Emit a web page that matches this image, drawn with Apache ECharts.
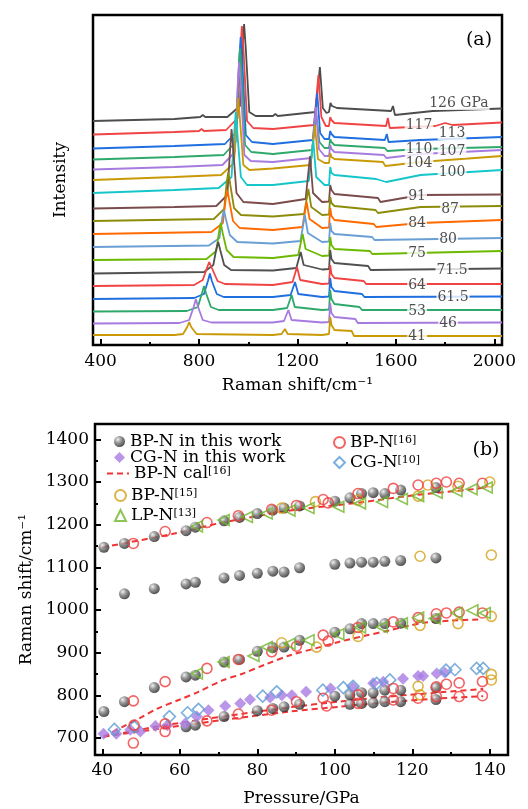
<!DOCTYPE html>
<html>
<head>
<meta charset="utf-8">
<script src="https://cdn.jsdelivr.net/npm/echarts@6/dist/echarts.min.js"></script>
<style>
html, body { margin: 0; padding: 0; background: #fff; }
#chart { width: 528px; height: 809px; }
</style>
</head>
<body>
<div id="chart"></div>
<script>
// ---- panel (a): Raman spectra, [shift, stacked intensity] ----
const s126 = [[369,224],[700,226],[805,228],[815,230],[825,228],[915,228],[966,239],[977,298],[983,321],[990,296],[1004,233],[1030,229],[1100,229],[1110,231],[1120,229],[1273,233],[1291,278],[1303,237],[1318,232],[1328,233],[1334,242],[1340,239],[1360,237],[1580,234],[1588,239],[1596,230],[1750,234],[2031,236.5]];
const s117 = [[369,210.5],[700,213],[800,214],[810,216],[820,214],[910,215],[957,227],[968,295],[974,319],[981,293],[995,224],[1020,217],[1100,216],[1267,220],[1285,270],[1297,228],[1315,219],[1328,219],[1333,228],[1338,225],[1350,222],[1560,219],[1567,227],[1575,217],[1760,219],[1800,222],[1830,220],[2031,222.5]];
const s113 = [[369,196.5],[700,199],[905,201],[952,213],[963,283],[969,308],[976,282],[990,210],[1015,203],[1100,201],[1262,205],[1280,252],[1292,212],[1310,206],[1328,206],[1333,214],[1338,211],[1350,208],[1555,205],[1563,211],[1570,203],[1700,205],[2031,208]];
const s110 = [[369,185.5],[700,188],[900,190],[949,203],[960,272],[966,297],[973,270],[987,200],[1012,193],[1100,191],[1259,195],[1277,230],[1289,203],[1310,197],[1328,197],[1333,206],[1338,203],[1350,200],[1555,197],[1565,194],[1700,196],[2031,198]];
const s107 = [[369,175.5],[700,178],[895,180],[946,193],[957,260],[963,283],[970,258],[984,190],[1010,184],[1100,183],[1257,187],[1275,238],[1287,196],[1310,189],[1328,189],[1333,200],[1338,196],[1350,193],[1551,190],[1561,187],[1700,191],[2031,195]];
const s104 = [[369,165],[700,168],[890,170],[942,182],[953,228],[959,247],[966,226],[980,180],[1005,175],[1100,176.5],[1253,180],[1271,220],[1283,186],[1310,182],[1328,182],[1333,192],[1338,188],[1350,186],[1547,183],[1557,179],[1700,183],[2031,189]];
const s100 = [[369,152],[700,155],[880,157],[932,168],[943,212],[949,233],[956,210],[970,168],[995,160],[1100,160],[1246,164],[1264,205],[1276,168],[1310,160],[1328,160],[1333,178],[1338,172],[1350,170],[1520,166],[1560,163],[1700,170],[2031,175]];
const s91 = [[369,136.5],[700,138],[870,139],[915,150],[926,195],[932,216],[939,195],[952,152],[980,143],[1100,141],[1233,146],[1251,189],[1263,152],[1300,143],[1328,143.5],[1333,160],[1338,155],[1350,151],[1527,147],[1537,143],[1700,150],[2031,150.5]];
const s87 = [[369,124],[860,126],[902,136],[912,162],[919,173],[927,160],[942,137],[970,130],[1100,128.5],[1227,131],[1244,156],[1256,138],[1300,130],[1328,130.5],[1333,148],[1338,142],[1350,139],[1517,135],[1527,132],[1700,138],[2031,139]];
const s84 = [[369,111],[850,113],[897,122],[908,145],[915,155],[923,144],[938,124],[965,117],[1100,115],[1220,118],[1237,143],[1249,126],[1300,117],[1328,117.5],[1333,137],[1338,129],[1350,125],[1510,121],[1520,118],[1700,122],[2031,125]];
const s80 = [[369,98],[840,99.5],[883,107],[894,127],[901,135],[909,126],[925,110],[955,103],[1100,101.5],[1212,104],[1230,130],[1242,112],[1300,103],[1328,103.5],[1333,122],[1338,114],[1350,111],[1503,108],[1513,105],[2031,107]];
const s75 = [[369,85],[830,86],[870,94],[881,113],[888,122],[896,112],[912,95],[940,88],[1100,87],[1203,90],[1221,111],[1233,96],[1300,89],[1328,89.5],[1333,108],[1338,100],[1350,96],[1494,94],[1504,91],[2031,94]];
const s71 = [[369,71.5],[820,73],[858,80],[870,96],[878,103],[886,95],[902,80],[930,75],[1100,74.5],[1195,77],[1213,93],[1225,80],[1300,75.5],[1328,76],[1333,95],[1338,86],[1350,82],[1487,79],[1497,75],[2031,76.5]];
const s64 = [[369,59],[780,60],[815,65],[832,77],[841,83],[852,77],[875,64],[905,61],[1100,60],[1180,63],[1198,78],[1211,65],[1300,61],[1328,61.5],[1333,80],[1338,71],[1350,67],[1469,64],[1479,61],[2031,61]];
const s61 = [[369,46],[780,47],[820,51],[836,64],[844,71.5],[852,64],[872,51],[900,48],[1100,48],[1172,50],[1190,63],[1203,51],[1300,48],[1328,48.5],[1333,67],[1338,58],[1350,54],[1462,51],[1472,48],[2031,48.5]];
const s53 = [[369,33.5],[750,34],[795,38],[812,52],[820,59],[828,52],[848,38],[880,35],[1100,35],[1158,37],[1176,50],[1189,38],[1300,35],[1328,35.5],[1333,55],[1338,46],[1350,41],[1452,38],[1462,35],[2031,35]];
const s46 = [[369,21.5],[720,22],[760,25],[778,38],[787,46],[796,38],[815,25],[850,22.5],[1100,22.5],[1145,24],[1163,35],[1176,25],[1300,22.5],[1328,23],[1333,42],[1338,32],[1350,28],[1435,26],[1445,22],[2031,22.5]];
const s41 = [[369,10],[700,10],[735,11],[752,18],[760,23],[768,18],[790,11],[1100,10],[1135,11],[1149,16],[1160,11],[1300,10],[1328,11],[1333,28],[1338,20],[1350,15],[1420,14],[1430,9],[2031,9]];

const spectra = [s126, s117, s113, s110, s107, s104, s100, s91, s87, s84, s80, s75, s71, s64, s61, s53, s46, s41];
const specLabels = ['126 GPa','117','113','110','107','104','100','91','87','84','80','75','71.5','64','61.5','53','46','41'];
const specLabelPos = [[1856,242],[1694,220],[1828,212],[1694,196],[1828,194],[1694,182],[1828,173],[1686,149],[1820,136],[1686,122],[1812,106],[1686,92],[1828,75],[1686,60],[1832,48],[1686,34],[1812,22],[1686,9]];
const specColors = ['#4d4d4d','#f04343','#1f6fe0','#2fa86b','#a77ae0','#c99a06','#14c6ca','#7b4b4b','#8c8c0a','#ff6a00','#6a9ed4','#6db800','#505050','#f04343','#1f6fe0','#2fa86b','#a77ae0','#c99a06'];

// ---- panel (b): peak positions vs pressure ----
const bpThisP = [40.4,45.7,53.4,61.6,64,71.4,75.4,80,84,86.9,90.9,100,103.9,106.9,109.9,112.9,117,126.1];
const bpThisHigh = [1147,1156,1172,1186,1194,1209,1217,1226,1234,1239,1244,1255,1263,1273,1275,1273,1281,1287];
const bpThisMid = [null,1038,1050,1061,1065,1075,1081,1086,1091,1089,1099,1107,1110,1112,1112,1114,1116,1122];
const bpThisLow = [762,785,818,843,847,878,884,903,912,913,929,948,956,968,968,968,969,980];
const bpThisLowestP = [61.6,64,71.4,80,84,86.9,90.9,100,103.9,103.9,106.9,106.9,109.9,109.9,112.9,112.9,117,117,126.1,126.1];
const bpThisLowest = [726,730,750,764,769,773,779,798,779,801,781,806,782,806,785,812,785,812,790,818];

const cgThisP = [40.3,43.6,47.2,49.8,53.7,56.8,61.4,64.4,67.4,71.7,75.6,78.1,83.3,86.3,88.9,92.6,98.9,104.7,109.9,112.5,117.6,121.5,122.8,126.3,128.4];
const cgThisV = [710,710,719,715,728,730,734,750,765,775,781,790,795,800,800,808,816,818,828,832,839,845,845,851,853];

const cg10P = [43.1,48.2,57.3,62,64.8,81.4,85,96.9,102.2,104.7,110.8,114.2,128.7,131,136.6,138.3];
const cg10V = [720,726,750,759,767,798,808,812,818,821,828,836,859,860,863,863];

const bp16P = [48,56.2,67,75.1,83.7,90.1,97,98.3,106,115.1,121.5,126.2,128.8,132.1,138.1];
const bp16High = [1156,1184,1205,1221,1236,1245,1259,1251,1273,1285,1293,1297,1300,1297,1297];
const bp16Mid = [787,832,863,884,902,915,941,927,959,972,982,991,993,995,993];
const bp16LowP = [48,48.2,56.2,56.2,67,75.1,83.7,90.1,97,97.9,106,106,115.1,115.1,121.5,126.2,126.2,128.8,132.1,132.1,138.1,138.1];
const bp16Low = [688,730,715,733,740,756,765,785,793,775,781,801,789,816,793,797,820,826,829,797,799,832];

const bp15P = [86.3,95,106,121.5,124,131.8,140,122,140.4,86.3,95.3,106,122,131.8,140.4,121.5,122,140.4,140.4];
const bp15V = [1239,1254,1257,1267,1293,1290,1300,1126,1129,923,913,938,964,968,985,821,801,849,836];

const lp13P = [64.4,71.3,77.3,82.4,88.3,93.2,100.9,106.5,112.2,117.3,121.5,126.3,131.4,135.3,139.2,
               64.4,71.3,79,82.4,88.3,93.2,100.9,106.5,112.1,117.3,121.5,125.8,131.4,135.5,138.7];
const lp13V = [1196,1211,1218,1226,1233,1239,1242,1250,1253,1260,1267,1275,1279,1283,1287,
               851,878,892,913,921,929,943,959,960,969,982,980,993,999,993];

const calHigh = [[40,1147],[58,1178],[71,1205],[88.5,1233],[106.5,1252],[119.5,1268],[136.5,1284],[139.5,1289]];
const calMid = [[40.3,703],[45,725],[50,748],[54,768],[60,790],[64.5,807],[71,835],[76,850],[82,872],[88.5,894],[95,910],[101,925],[108,940],[114,952],[119,963],[123,970],[130,975],[138,978]];
const calLow1 = [[40.3,703],[55,728],[71,750],[88.5,772],[101,785],[114,797],[126,806],[138.3,815]];
const calLow2 = [[40.3,703],[55,722],[71,742],[88.5,762],[101,773],[114,784],[126,792],[138.3,798]];

const FONT = 'DejaVu Serif';
const zip = (xs, ys) => xs.map((x, i) => [x, ys[i]]).filter(d => d[1] != null);

const chart = echarts.init(document.getElementById('chart'));

const txt = (size) => ({ fontFamily: FONT, fontSize: size, color: '#000' });
const plain = v => String(v);
const tickStyle = { color: '#000', width: 2 };

const series = [];

// spectra, highest pressure drawn first
spectra.forEach((s, i) => {
  series.push({
    type: 'line', xAxisIndex: 0, yAxisIndex: 0, data: s,
    showSymbol: false, symbol: 'none', silent: true,
    lineStyle: { color: specColors[i], width: 1.8 },
    z: 2
  });
});
series.push({
  type: 'scatter', xAxisIndex: 0, yAxisIndex: 0, symbolSize: 0, silent: true, z: 5,
  data: specLabelPos.map((p, i) => ({ value: p, label: { formatter: specLabels[i] } })),
  label: {
    show: true, position: 'inside', fontFamily: FONT, fontSize: 14, color: '#222',
    backgroundColor: '#fff', padding: [0, 1]
  }
});

// panel (b)
const dash = { color: '#ee3535', width: 2, type: [6, 4] };
[calHigh, calMid, calLow1, calLow2].forEach(d => {
  series.push({
    name: 'BP-N cal[16]', type: 'line', xAxisIndex: 2, yAxisIndex: 1, data: d,
    symbol: 'none', smooth: 0.3, lineStyle: dash, itemStyle: { color: '#ee3535' }, z: 2
  });
});
const sphere = new echarts.graphic.RadialGradient(0.35, 0.32, 0.7, [
  { offset: 0, color: '#ececec' }, { offset: 0.45, color: '#7c7c7c' }, { offset: 1, color: '#262626' }
]);
series.push({
  name: 'BP-N in this work', type: 'scatter', xAxisIndex: 2, yAxisIndex: 1, symbolSize: 11,
  itemStyle: { color: sphere },
  data: zip(bpThisP, bpThisHigh).concat(zip(bpThisP, bpThisMid), zip(bpThisP, bpThisLow), zip(bpThisLowestP, bpThisLowest)),
  z: 3
});
series.push({
  name: 'CG-N in this work', type: 'scatter', xAxisIndex: 2, yAxisIndex: 1, symbol: 'diamond', symbolSize: 12,
  itemStyle: { color: '#a97ce2' }, data: zip(cgThisP, cgThisV), z: 3
});
series.push({
  name: 'CG-N[10]', type: 'scatter', xAxisIndex: 2, yAxisIndex: 1, symbol: 'diamond', symbolSize: 12,
  itemStyle: { color: 'rgba(0,0,0,0)', borderColor: '#5b9bd5', borderWidth: 1.6 }, data: zip(cg10P, cg10V), z: 4
});
series.push({
  name: 'BP-N[15]', type: 'scatter', xAxisIndex: 2, yAxisIndex: 1, symbol: 'circle', symbolSize: 10,
  itemStyle: { color: 'rgba(0,0,0,0)', borderColor: '#d3a119', borderWidth: 1.6 }, data: zip(bp15P, bp15V), z: 4
});
series.push({
  name: 'BP-N[16]', type: 'scatter', xAxisIndex: 2, yAxisIndex: 1, symbol: 'circle', symbolSize: 10,
  itemStyle: { color: 'rgba(0,0,0,0)', borderColor: '#f03c3c', borderWidth: 1.6 },
  data: zip(bp16P, bp16High).concat(zip(bp16P, bp16Mid), zip(bp16LowP, bp16Low)), z: 4
});
series.push({
  name: 'LP-N[13]', type: 'scatter', xAxisIndex: 2, yAxisIndex: 1, symbol: 'triangle', symbolRotate: 90, symbolSize: 11,
  itemStyle: { color: 'rgba(0,0,0,0)', borderColor: '#6fb62c', borderWidth: 1.6 }, data: zip(lp13P, lp13V), z: 4
});

const supFmt = name => name.replace(/\[(\d+)\]/, '{s|[$1]}');
const legendAt = (name, left, top, w) => ({
  data: [name], left: left, top: top, padding: 0, itemWidth: w || 11, itemHeight: 11,
  selectedMode: false, formatter: supFmt,
  textStyle: {
    fontFamily: FONT, fontSize: 17, color: '#000', lineHeight: 16,
    rich: { s: { fontFamily: FONT, fontSize: 11, lineHeight: 11, verticalAlign: 'top', color: '#000' } }
  }
});
const calLegend = legendAt('BP-N cal[16]', 106, 465, 22);
calLegend.itemStyle = { opacity: 0 };

const option = {
  animation: false,
  backgroundColor: '#fff',
  grid: [
    { left: 93, top: 15, width: 409, height: 330, show: true, borderColor: '#000', borderWidth: 2.5, backgroundColor: 'transparent' },
    { left: 95, top: 424, width: 413, height: 331, show: true, borderColor: '#000', borderWidth: 2.5, backgroundColor: 'transparent' }
  ],
  legend: [
    legendAt('BP-N in this work', 114, 433),
    legendAt('CG-N in this work', 114, 449),
    calLegend,
    legendAt('BP-N[15]', 114, 487),
    legendAt('LP-N[13]', 114, 507),
    legendAt('BP-N[16]', 333, 434),
    legendAt('CG-N[10]', 333, 454)
  ],
  xAxis: [
    {
      gridIndex: 0, type: 'value', min: 369, max: 2031, position: 'bottom',
      axisLine: { show: false }, splitLine: { show: false },
      axisTick: { inside: true, length: 6, lineStyle: tickStyle, customValues: [400, 800, 1200, 1600, 2000] },
      axisLabel: Object.assign(txt(17), { margin: 8, formatter: plain, customValues: [400, 800, 1200, 1600, 2000] }),
      name: 'Raman shift/cm\u207B\u00B9', nameLocation: 'middle', nameGap: 32, nameTextStyle: txt(17)
    },
    {
      gridIndex: 0, type: 'value', min: 369, max: 2031, position: 'bottom',
      axisLine: { show: false }, splitLine: { show: false }, axisLabel: { show: false },
      axisTick: { inside: true, length: 3, lineStyle: tickStyle, customValues: [600, 1000, 1400, 1800] }
    },
    {
      gridIndex: 1, type: 'value', min: 38.1, max: 144.7, position: 'bottom',
      axisLine: { show: false }, splitLine: { show: false },
      axisTick: { inside: true, length: 6, lineStyle: tickStyle, customValues: [40, 60, 80, 100, 120, 140] },
      axisLabel: Object.assign(txt(17), { margin: 7, formatter: plain, customValues: [40, 60, 80, 100, 120, 140] }),
      name: 'Pressure/GPa', nameLocation: 'middle', nameGap: 35, nameTextStyle: txt(17)
    },
    {
      gridIndex: 1, type: 'value', min: 38.1, max: 144.7, position: 'bottom',
      axisLine: { show: false }, splitLine: { show: false }, axisLabel: { show: false },
      axisTick: { inside: true, length: 3, lineStyle: tickStyle, customValues: [50, 70, 90, 110, 130] }
    }
  ],
  yAxis: [
    {
      gridIndex: 0, type: 'value', min: 0, max: 330,
      axisLine: { show: false }, axisTick: { show: false }, axisLabel: { show: false }, splitLine: { show: false },
      name: 'Intensity', nameLocation: 'middle', nameGap: 24, nameTextStyle: txt(17)
    },
    {
      gridIndex: 1, type: 'value', min: 660, max: 1436, position: 'left',
      axisLine: { show: false }, splitLine: { show: false },
      axisTick: { inside: true, length: 6, lineStyle: tickStyle, customValues: [700, 800, 900, 1000, 1100, 1200, 1300, 1400] },
      axisLabel: Object.assign(txt(17), { margin: 6, formatter: plain, customValues: [700, 800, 900, 1000, 1100, 1200, 1300, 1400] }),
      name: 'Raman shift/cm\u207B\u00B9', nameLocation: 'middle', nameGap: 53, nameTextStyle: txt(17)
    },
    {
      gridIndex: 1, type: 'value', min: 660, max: 1436, position: 'left',
      axisLine: { show: false }, splitLine: { show: false }, axisLabel: { show: false },
      axisTick: { inside: true, length: 3, lineStyle: tickStyle, customValues: [750, 850, 950, 1050, 1150, 1250, 1350] }
    }
  ],
  graphic: [
    { type: 'text', x: 479, y: 40, style: { text: '(a)', font: '19px "DejaVu Serif"', fill: '#000', align: 'center', verticalAlign: 'middle' } },
    { type: 'text', x: 486, y: 450, style: { text: '(b)', font: '19px "DejaVu Serif"', fill: '#000', align: 'center', verticalAlign: 'middle' } }
  ],
  series: series
};

chart.setOption(option);
</script>
</body>
</html>
